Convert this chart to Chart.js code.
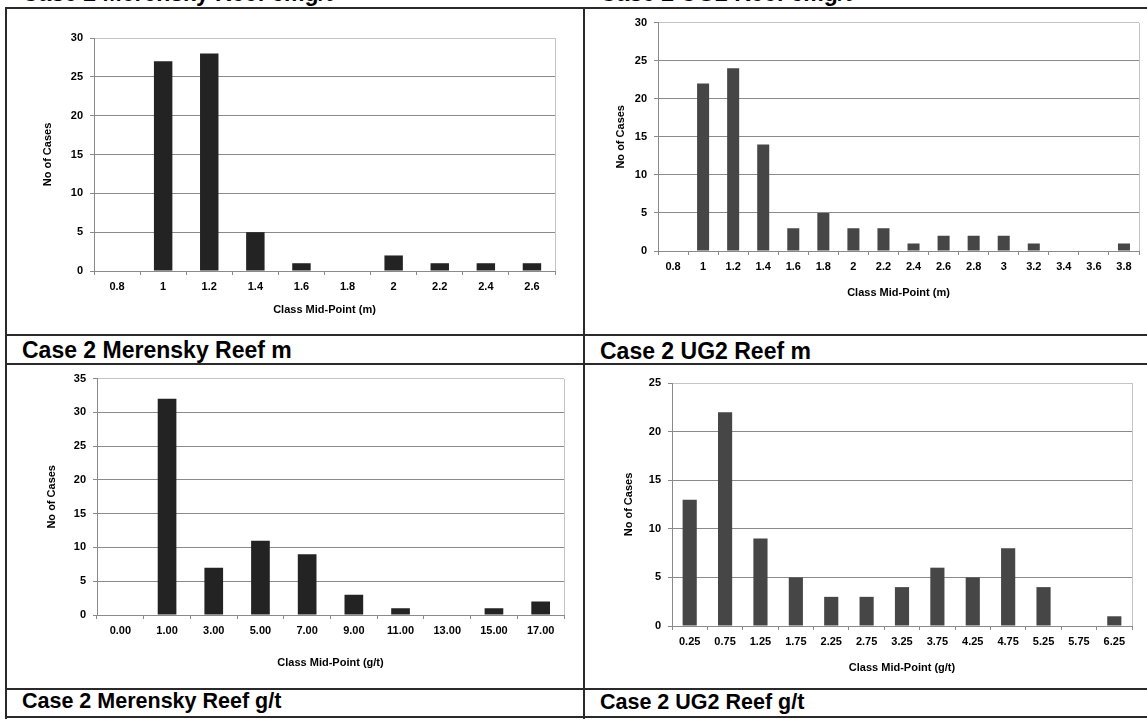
<!DOCTYPE html>
<html>
<head>
<meta charset="utf-8">
<script src="https://cdn.jsdelivr.net/npm/chart.js@4.4.0/dist/chart.umd.min.js"></script>
<style>
  html, body { margin:0; padding:0; background:#fff; width:1147px; height:719px; overflow:hidden; position:relative; }
  .cv { position:absolute; }
  .line { position:absolute; background:#2a2a2a; z-index:5; }
  .cap { position:absolute; font-family:"Liberation Sans", Arial, sans-serif; font-weight:bold; font-size:23px; line-height:23px; color:#000; white-space:nowrap; }
  .cap.small { font-size:21.5px; line-height:21.5px; }
</style>
</head>
<body>
<div class="cap" style="left:22px; top:-18.5px;">Case 2 Merensky Reef cmg/t</div>
<div class="cap" style="left:600px; top:-18.5px;">Case 2 UG2 Reef cmg/t</div>
<div class="cap" style="left:22px; top:339px;">Case 2 Merensky Reef m</div>
<div class="cap" style="left:600px; top:339.5px;">Case 2 UG2 Reef m</div>
<div class="cap small" style="left:22px; top:691px;">Case 2 Merensky Reef g/t</div>
<div class="cap small" style="left:600px; top:691.5px;">Case 2 UG2 Reef g/t</div>

<div class="line" style="left:5px; top:6.5px; width:1142px; height:2px;"></div>
<div class="line" style="left:5px; top:333.5px; width:1142px; height:2px;"></div>
<div class="line" style="left:5px; top:362.5px; width:1142px; height:2px;"></div>
<div class="line" style="left:5px; top:688px; width:1142px; height:2px;"></div>
<div class="line" style="left:5px; top:716px; width:1142px; height:2px;"></div>
<div class="line" style="left:5px; top:6.5px; width:2px; height:712px;"></div>
<div class="line" style="left:583px; top:6.5px; width:1.5px; height:712px;"></div>

<canvas id="c1" class="cv" width="576" height="325" style="left:7px; top:9px;"></canvas>
<canvas id="c2" class="cv" width="562" height="325" style="left:585px; top:9px;"></canvas>
<canvas id="c3" class="cv" width="576" height="323" style="left:7px; top:365px;"></canvas>
<canvas id="c4" class="cv" width="562" height="323" style="left:585px; top:365px;"></canvas>

<script>
// ---- Data ----
const merenskyMLabels = ['0.8','1','1.2','1.4','1.6','1.8','2','2.2','2.4','2.6'];
const merenskyMCounts = [0, 27, 28, 5, 1, 0, 2, 1, 1, 1];

const ug2MLabels = ['0.8','1','1.2','1.4','1.6','1.8','2','2.2','2.4','2.6','2.8','3','3.2','3.4','3.6','3.8'];
const ug2MCounts = [0, 22, 24, 14, 3, 5, 3, 3, 1, 2, 2, 2, 1, 0, 0, 1];

const merenskyGtLabels = ['0.00','1.00','3.00','5.00','7.00','9.00','11.00','13.00','15.00','17.00'];
const merenskyGtCounts = [0, 32, 7, 11, 9, 3, 1, 0, 1, 2];

const ug2GtLabels = ['0.25','0.75','1.25','1.75','2.25','2.75','3.25','3.75','4.25','4.75','5.25','5.75','6.25'];
const ug2GtCounts = [13, 22, 9, 5, 3, 3, 4, 6, 5, 8, 4, 0, 1];

const yTitle = 'No of Cases';
const xTitleM = 'Class Mid-Point (m)';
const xTitleGt = 'Class Mid-Point (g/t)';

// ---- Helpers ----
const FONT = '"Liberation Sans", Arial, sans-serif';

const rightFrame = {
  id: 'rightFrame',
  beforeDatasetsDraw(chart) {
    const a = chart.chartArea, ctx = chart.ctx;
    ctx.save();
    ctx.strokeStyle = '#c4c4c4';
    ctx.lineWidth = 1;
    const x = Math.round(a.right) + 0.5;
    ctx.beginPath();
    ctx.moveTo(x, Math.round(a.top));
    ctx.lineTo(x, Math.round(a.bottom));
    ctx.stroke();
    ctx.restore();
  }
};

function makeChart(id, box, area, labels, values, yMax, color, xTitleText, xTitleY, yTitleX) {
  const tickFont = { family: FONT, size: 11, weight: 'bold' };
  const titleFont = { family: FONT, size: 11, weight: 'bold' };
  const lh = 11 * 1.2;
  const yScaleWidth = area.l - box.x;
  const xScaleHeight = (box.y + box.h) - area.b;
  new Chart(document.getElementById(id), {
    type: 'bar',
    data: {
      labels: labels,
      datasets: [{ data: values, backgroundColor: color, borderWidth: 0,
                   barPercentage: 0.4, categoryPercentage: 1.0 }]
    },
    options: {
      responsive: false,
      animation: false,
      devicePixelRatio: 1,
      layout: { padding: { top: area.t - box.y, right: (box.x + box.w) - area.r, left: 0, bottom: 0 } },
      plugins: { legend: { display: false }, tooltip: { enabled: false } },
      scales: {
        x: {
          offset: true,
          grid: { display: true, drawOnChartArea: false, drawTicks: true, tickLength: 4,
                  offset: true, color: '#8a8a8a', tickColor: '#8a8a8a' },
          border: { display: true, color: '#8a8a8a', width: 1 },
          ticks: { font: tickFont, color: '#000', padding: 5, maxRotation: 0, autoSkip: false },
          title: { display: true, text: xTitleText, font: titleFont, color: '#000',
                   padding: { top: 0, bottom: (box.y + box.h) - xTitleY - lh / 2 } },
          afterFit(s) { s.height = xScaleHeight; }
        },
        y: {
          min: 0, max: yMax,
          grid: { drawTicks: true, tickLength: 4,
                  color: (ctx) => (ctx.tick && ctx.tick.value === yMax) ? '#c4c4c4' : '#8a8a8a',
                  tickColor: '#8a8a8a', lineWidth: 1 },
          border: { display: true, color: '#8a8a8a', width: 1 },
          ticks: { stepSize: 5, font: tickFont, color: '#000', padding: 7 },
          title: { display: true, text: yTitle, font: titleFont, color: '#000',
                   padding: { top: yTitleX - box.x - lh / 2, bottom: 0 } },
          afterFit(s) { s.width = yScaleWidth; }
        }
      }
    },
    plugins: [rightFrame]
  });
}

makeChart('c1', {x:7, y:9, w:576, h:325}, {l:94, t:38, r:555, b:271},
  merenskyMLabels, merenskyMCounts, 30, '#232323', xTitleM, 310, 48);
makeChart('c2', {x:585, y:9, w:562, h:325}, {l:658, t:19, r:1139, b:251},
  ug2MLabels, ug2MCounts, 30, '#464646', xTitleM, 293, 621);
makeChart('c3', {x:7, y:365, w:576, h:323}, {l:97, t:375, r:564, b:615},
  merenskyGtLabels, merenskyGtCounts, 35, '#232323', xTitleGt, 663, 52);
makeChart('c4', {x:585, y:365, w:562, h:323}, {l:672, t:383, r:1132, b:626},
  ug2GtLabels, ug2GtCounts, 25, '#464646', xTitleGt, 668, 629);
</script>
</body>
</html>
